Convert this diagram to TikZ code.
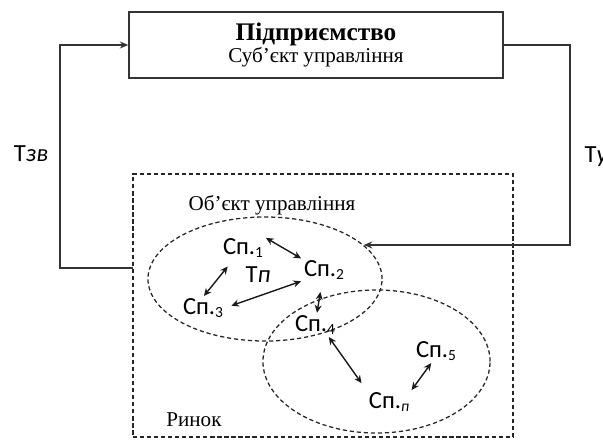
\documentclass[tikz,border=0pt]{standalone}
\usepackage{fontspec}
\setmainfont{Liberation Serif}
\newfontfamily\calib{Carlito}
\usetikzlibrary{shapes.geometric,arrows.meta}

\begin{document}
\begin{tikzpicture}[x=0.025cm, y=-0.025cm,
    spnode/.style={font=\calib\fontsize{17.5}{19}\selectfont, inner sep=1pt},
    txtnode/.style={font=\fontsize{15}{17}\selectfont, inner sep=1pt},
    twoway/.style={{Stealth[length=5.5pt,width=5pt]}-{Stealth[length=5.5pt,width=5pt]}, line width=1pt, draw=black!90, shorten <=1pt, shorten >=1pt},
    flow/.style={-{Stealth[length=6pt,width=5pt]}, line width=1pt, draw=black!80},
    dashline/.style={draw=black!85, dash pattern=on 3pt off 2pt, line width=0.9pt}]
    \useasboundingbox (0,0) rectangle (603,441);

    \node[draw=black!80, line width=1pt, minimum width=9.35cm, minimum height=1.65cm, align=center,
          font=\fontsize{15}{14.5}\selectfont] (firm) at (316,45)
          {{\fontsize{18}{20}\selectfont\bfseries Підприємство}\\ Суб'єкт управління};
    \node[dashline, minimum width=9.5cm, minimum height=6.575cm] (mkt) at (323,305.5) {};
    \node[ellipse, dashline, minimum width=5.85cm, minimum height=3.1cm, inner sep=0pt] (obj) at (265,279) {};
    \node[ellipse, dashline, minimum width=5.675cm, minimum height=3.575cm, inner sep=0pt] (grp) at (376.5,361.5) {};

    \node[txtnode] (objlbl) at (272,205) {Об'єкт управління};
    \node[txtnode] (mktlbl) at (194,420) {Ринок};
    \node[spnode] (tzv) at (31,154) {Т\textit{зв}};
    \node[spnode, anchor=west] (tu) at (583,157) {Т\textit{у}};

    \node[spnode] (sp1) at (243,248) {Сп.\raisebox{-0.2ex}{\fontsize{11}{11}\selectfont 1}};
    \node[spnode] (sp2) at (324,270) {Сп.\raisebox{-0.2ex}{\fontsize{11}{11}\selectfont 2}};
    \node[spnode] (sp3) at (203,308) {Сп.\raisebox{-0.2ex}{\fontsize{11}{11}\selectfont 3}};
    \node[spnode] (tp) at (258,275) {Т\textit{п}};
    \node[spnode] (sp4) at (315,325) {Сп.\raisebox{-0.2ex}{\fontsize{11}{11}\selectfont 4}};
    \node[spnode] (sp5) at (436,351) {Сп.\raisebox{-0.2ex}{\fontsize{11}{11}\selectfont 5}};
    \node[spnode] (spn) at (389,402) {Сп.\raisebox{-0.2ex}{\fontsize{11}{11}\selectfont\itshape п}};

    \coordinate (fb) at (133,268);
    \coordinate (cl) at (60,268);
    \coordinate (cr) at (570,45);

    \draw[flow] (fb) -- (cl) |- (firm.west);
    \draw[flow] (firm.east) -- (cr) |- (obj.19);

    \draw[twoway] (sp1.north east) -- (sp2.north west);
    \draw[twoway, shorten >=7pt] (sp3.north) -- (sp1.230);
    \draw[twoway, shorten <=5pt] (sp3.east) -- (sp2.south west);
    \draw[twoway, shorten <=8pt] (sp2) -- (sp4);
    \draw[twoway, shorten >=7pt] (sp4.-40) -- (spn.north west);
    \draw[twoway] (sp5.-110) -- (spn.north east);
\end{tikzpicture}
\end{document}
